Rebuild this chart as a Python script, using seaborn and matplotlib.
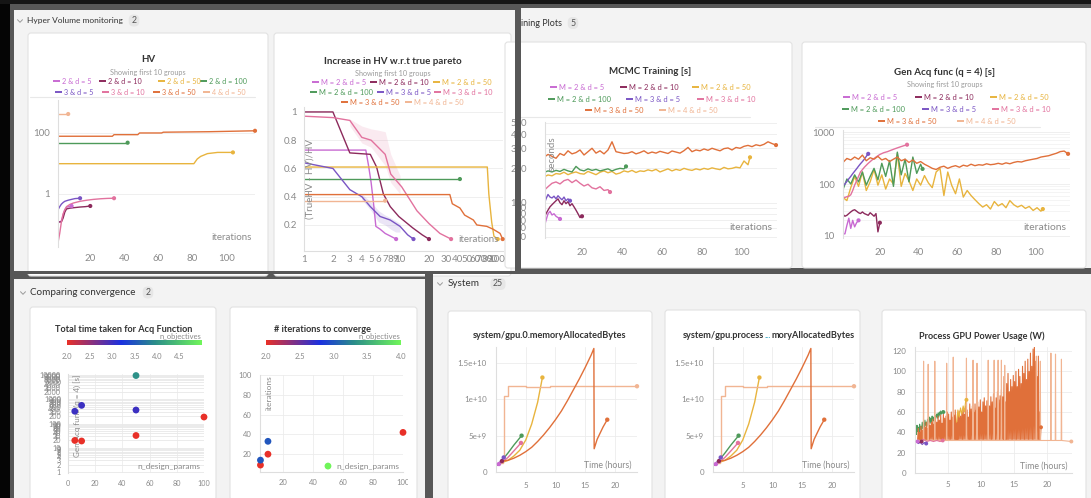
import numpy as np
import pandas as pd
import matplotlib
matplotlib.use("Agg")
import matplotlib.pyplot as plt
import seaborn as sns
from matplotlib.patches import Rectangle, FancyBboxPatch
from matplotlib.colors import LinearSegmentedColormap, Normalize
from matplotlib.cm import ScalarMappable
from matplotlib.ticker import FixedLocator, FixedFormatter, NullLocator
from matplotlib.transforms import Bbox

sns.set_theme(style="white")
plt.rcParams['font.family'] = ['Lato', 'DejaVu Sans']

# ------------------------------------------------------------------ data
groups = ["M = 2 & d = 5", "M = 2 & d = 10", "M = 2 & d = 50", "M = 2 & d = 100",
          "M = 3 & d = 5", "M = 3 & d = 10", "M = 3 & d = 50", "M = 4 & d = 50"]
hv_labels = ["2 & d = 5", "2 & d = 10", "2 & d = 50", "2 & d = 100",
             "3 & d = 5", "3 & d = 10", "3 & d = 50", "4 & d = 50"]
colors = ["#c86ad2", "#8c2a5c", "#e8b43e", "#4e9a5a", "#7a55c4", "#e2729e", "#e0703a", "#f1b593"]

# HV (log y)
hv_25_x = [1, 2, 3, 4, 5, 6, 7, 8, 9]
hv_25_y = [0.12, 0.12, 0.13, 0.2, 0.3, 0.36, 0.38, 0.39, 0.4]
hv_210_x = [1, 3, 4, 5, 6, 8, 10, 14, 17, 20]
hv_210_y = [0.12, 0.12, 0.16, 0.25, 0.32, 0.34, 0.35, 0.37, 0.38, 0.4]
hv_250_x = [1, 81, 83, 85, 89, 95, 104]
hv_250_y = [9.8, 9.8, 14, 17, 21, 23, 23]
hv_2100_x = [1, 42]
hv_2100_y = [48, 48]
hv_35_x = [1, 2, 3, 4, 5, 7, 9, 11, 14]
hv_35_y = [0.3, 0.38, 0.46, 0.52, 0.57, 0.62, 0.66, 0.7, 0.72]
hv_310_x = [1, 2, 3, 4, 5, 6, 8, 10, 14, 18, 22, 26, 30, 34]
hv_310_y = [0.025, 0.05, 0.12, 0.22, 0.3, 0.38, 0.45, 0.5, 0.57, 0.62, 0.66, 0.69, 0.71, 0.72]
hv_350_x = [1, 33, 34, 48, 49, 62, 63, 90, 117]
hv_350_y = [78, 78, 88, 88, 100, 100, 106, 110, 118]
hv_450_x = [1, 7]
hv_450_y = [420, 420]

# Increase in HV w.r.t true pareto (log x)
ih_25_x = [1, 4.4, 4.7, 5, 5.3, 5.6, 6.2, 7, 8, 9.1]
ih_25_y = [0.73, 0.73, 0.62, 0.5, 0.35, 0.19, 0.17, 0.14, 0.12, 0.1]
ih_210_x = [1, 2, 3, 4.9, 5.7, 6.7, 7.9, 9.7, 13.5, 17, 20]
ih_210_y = [1.0, 1.0, 0.71, 0.7, 0.61, 0.42, 0.33, 0.26, 0.18, 0.13, 0.1]
ih_250_x = [1, 81, 84, 86, 90, 95, 104]
ih_250_y = [0.61, 0.61, 0.42, 0.35, 0.22, 0.12, 0.1]
ih_2100_x = [1, 42]
ih_2100_y = [0.525, 0.525]
ih_35_x = [1, 2, 3, 4, 4.9, 6.2, 7.9, 10, 12, 13.8]
ih_35_y = [0.64, 0.6, 0.45, 0.4, 0.33, 0.26, 0.235, 0.19, 0.13, 0.1]
ih_310_x = [1, 2, 3, 4, 5, 7, 8, 10.4, 15, 20, 26, 34]
ih_310_y = [0.97, 0.96, 0.94, 0.82, 0.8, 0.7, 0.56, 0.47, 0.3, 0.21, 0.14, 0.1]
ih_350_x = [1, 33, 35, 42, 47, 58, 63, 80, 93, 110, 117]
ih_350_y = [0.415, 0.415, 0.35, 0.32, 0.27, 0.235, 0.2, 0.19, 0.17, 0.14, 0.1]
ih_450_x = [1, 7]
ih_450_y = [0.372, 0.372]
ih_310_band_x = [3, 4, 5, 6, 7, 8, 10]
ih_310_band_lo = [0.9, 0.78, 0.75, 0.68, 0.62, 0.5, 0.42]
ih_310_band_hi = [0.95, 0.9, 0.88, 0.87, 0.86, 0.7, 0.55]
ih_35_band_x = [4, 5, 6, 7, 8, 9, 10]
ih_35_band_lo = [0.38, 0.3, 0.22, 0.2, 0.17, 0.15, 0.15]
ih_35_band_hi = [0.42, 0.36, 0.3, 0.27, 0.25, 0.23, 0.21]

# MCMC Training [s]
mc_25_x = list(range(1, 10))
mc_25_y = [60, 70, 80, 84, 78, 80, 76, 74, 72]
mc_210_x = list(range(1, 21))
mc_210_y = [74, 80, 86, 92, 96, 100, 104, 108, 100, 96, 104, 98, 102, 94, 98, 92, 86, 80, 74, 76]
mc_250_x = list(range(1, 104, 2)) + [104]
mc_250_y = [168, 175, 172, 180, 178, 185, 176, 182, 186, 180, 178, 188, 182, 176, 185, 190, 183, 188, 178, 182,
            190, 186, 192, 184, 190, 188, 194, 190, 196, 186, 192, 198, 190, 196, 192, 200, 195, 192, 198, 194,
            200, 196, 202, 198, 195, 204, 198, 200, 205, 202, 232, 215, 250]
mc_2100_x = list(range(1, 42, 2)) + [42]
mc_2100_y = [184, 190, 186, 192, 188, 196, 190, 186, 208, 194, 190, 198, 192, 196, 190, 194, 198, 190, 196, 200,
             198, 208]
mc_35_x = list(range(1, 15))
mc_35_y = [96, 108, 118, 112, 110, 114, 108, 115, 110, 106, 112, 104, 108, 104]
mc_310_x = list(range(1, 34, 2)) + [34]
mc_310_y = [128, 138, 148, 152, 146, 156, 160, 150, 158, 148, 140, 145, 135, 132, 138, 128, 130, 124]
mc_350_x = list(range(1, 118, 2))
mc_350_y = [250, 265, 255, 245, 270, 260, 285, 268, 275, 290, 262, 280, 300, 272, 285, 268, 290, 342, 280, 275,
            270, 272, 280, 268, 275, 285, 270, 278, 272, 282, 276, 270, 284, 278, 272, 286, 305, 280, 290, 285,
            296, 288, 300, 292, 285, 298, 302, 290, 305, 300, 312, 318, 310, 322, 316, 325, 342, 330, 320]

# Gen Acq func (q = 4) [s]
ga_25_x = list(range(1, 10))
ga_25_y = [11, 11, 16, 22, 14, 20, 15, 18, 20]
ga_210_x = list(range(1, 21))
ga_210_y = [26, 24, 25, 27, 29, 31, 32, 30, 28, 27, 29, 27, 26, 25, 28, 26, 24, 27, 12, 18]
ga_250_x = list(range(1, 104, 2)) + [104]
ga_250_y = [55, 48, 85, 140, 90, 170, 75, 110, 190, 95, 150, 80, 125, 100, 380, 90, 160, 115, 75, 125,
            95, 145, 105, 85, 170, 200, 60, 170, 95, 65, 125, 56, 75, 60, 50,
            42, 36, 40, 33, 46, 38, 42, 35, 48, 40, 36, 39, 34, 37, 31, 35, 30, 33]
ga_2100_x = list(range(1, 42, 2)) + [42]
ga_2100_y = [78, 125, 100, 150, 110, 170, 95, 140, 200, 120, 250, 140, 280, 90, 410, 150, 300, 110, 330, 160,
             240, 195]
ga_35_x = list(range(1, 15))
ga_35_y = [92, 100, 112, 126, 140, 158, 176, 196, 220, 245, 270, 300, 340, 380]
ga_310_x = [1, 2, 3, 4, 5, 6, 7, 8, 9, 10, 12, 14, 16, 18, 20, 22, 24, 26, 28, 30, 32, 34]
ga_310_y = [56, 55, 57, 58, 62, 75, 95, 115, 140, 170, 210, 250, 290, 330, 370, 400, 420, 450, 480, 510, 540, 570]
ga_350_x = list(range(1, 118, 2))
ga_350_y = [260, 310, 290, 330, 300, 360, 280, 320, 300, 340, 290, 310, 270, 300, 330, 280, 300, 260, 290, 250,
            270, 240, 220, 200, 190, 210, 220, 200, 215, 225, 210, 230, 220, 240, 225, 235, 230, 245, 235, 240,
            250, 240, 255, 245, 260, 270, 265, 280, 290, 300, 310, 330, 340, 350, 370, 390, 420, 430, 380]

# Comparing convergence
conv_d = [5, 10, 50, 100, 5, 10, 50, 50]
conv_M = [2, 2, 2, 2, 3, 3, 3, 4]
conv_acq_time = [20, 19, 32, 185, 320, 560, 360, 9500]
it_d = [5, 10, 100, 5, 10, 50]
it_M = [2, 2, 2, 3, 3, 4]
it_iters = [9, 20, 42, 14, 33, 8]

# System: memory (bytes, in units of 1e9)
mem_25_t = [0.2, 0.5]
mem_25_v = [0.9, 1.1]
mem_210_t = [0.3, 0.6, 1.0]
mem_210_v = [1.0, 1.2, 1.5]
mem_250_t = [0.5, 1, 2, 3, 4, 5, 6, 7, 7.8]
mem_250_v = [1.2, 1.3, 1.6, 2.2, 3.0, 4.4, 6.6, 9.6, 13.0]
mem_2100_t = [0.4, 1, 2, 3, 4.3]
mem_2100_v = [1.1, 1.6, 2.6, 3.7, 5.0]
mem_35_t = [0.4, 0.8, 1.3]
mem_35_v = [1.0, 1.5, 2.0]
mem_310_t = [0.5, 1, 2, 3, 4.2]
mem_310_v = [1.0, 1.3, 2.0, 2.9, 4.0]
mem_350_t = [0.8, 2, 3, 4, 5, 6, 7, 8, 9, 10, 11, 12, 13, 14, 15, 16, 16.45, 16.5, 17, 18, 18.7]
mem_350_v = [1.5, 1.6, 1.9, 2.3, 2.8, 3.4, 4.2, 5.1, 6.1, 7.2, 8.4, 9.8, 11.3, 12.8, 14.4, 16.1, 17.0,
             3.2, 4.5, 6.2, 7.2]
mem_450_t = [0.3, 1.2, 1.2, 1.3, 1.3, 2.0, 2.0, 5.0, 5.0, 9.0, 9.0, 23.7]
mem_450_v = [1.2, 1.2, 2.2, 2.2, 10.5, 10.5, 11.8, 11.8, 11.7, 11.7, 11.8, 11.8]

# System: power (W)
pw_25_t = [0.2, 0.4]
pw_25_w = [31, 31]
pw_210_t = [0.2, 0.6, 1.0]
pw_210_w = [31, 30, 31]
pw_250_t = [6.3, 6.5, 6.7, 6.9, 7.1, 7.3, 7.5, 7.7, 7.8]
pw_250_w = [50, 62, 55, 64, 58, 66, 60, 72, 72]
pw_2100_t = list(np.round(np.arange(1, 44) * 0.1, 1))
pw_2100_w = [44, 38, 47, 41, 45, 40, 48, 43, 46, 42, 50, 44, 48, 45, 52, 47, 50, 46, 53, 48,
             51, 55, 49, 54, 50, 56, 52, 55, 51, 57, 53, 56, 58, 54, 59, 55, 60, 57, 61, 58, 60, 61, 60]
pw_35_t = [0.2, 0.5, 0.8, 1.1, 1.4, 1.7]
pw_35_w = [31, 29, 30, 28, 30, 29]
pw_310_t = [0.3, 0.8, 1.3, 1.8, 2.3, 2.8, 3.3, 3.8, 4.2]
pw_310_w = [32, 31, 33, 31, 32, 31, 32, 31, 32]
pw_350_start = 0.5
pw_350_step = 0.2
pw_350_low = 33
pw_350_peaks = [44, 40, 46, 42, 48, 45, 50, 44, 52, 47, 50,
                53, 48, 55, 50, 56, 52, 57, 49, 58, 54, 56, 60,
                58, 52, 60, 55, 57, 62, 50, 58, 61, 56,
                60, 64, 58, 66, 62, 55, 68, 63, 66, 60,
                68, 62, 70, 65, 72, 60, 70, 74, 66, 71,
                72, 66, 75, 70, 78, 64, 74, 80, 72, 76,
                82, 75, 95, 70, 88, 98, 80, 92, 85, 96,
                90, 100, 85, 102, 95, 88, 105, 98, 110, 92,
                112, 100, 118, 105, 122, 125, 110, 95, 115, 60, 45]
pw_450_base = 32
pw_450_spike_t = [1.3, 2.0, 3.0, 4.8, 5.8, 7.8, 8.8, 9.4, 11.1, 12.0, 12.6, 13.1, 13.6, 18.4, 19.0,
                  20.6, 21.3, 22.2]
pw_450_spike_w = [110, 107, 110, 108, 114, 113, 111, 108, 111, 111, 111, 111, 106, 115, 110, 118, 117, 112]
pw_450_end = 23.7

# ------------------------------------------------------------------ helpers
W, H = 1091, 498
fig = plt.figure(figsize=(W / 100, H / 100), dpi=100)
fig.patch.set_facecolor('#575757')
pal = dict(zip(groups, colors))


def R(x0, y0, x1, y1):
    return [x0 / W, 1 - y1 / H, (x1 - x0) / W, (y1 - y0) / H]


def T(x, y, s, **kw):
    return fig.text(x / W, 1 - y / H, s, **kw)


def clip_x(artist, x0=0, x1=W):
    artist.set_clip_box(Bbox.from_extents(x0, 0, x1, H))
    artist.set_clip_on(True)


bg = fig.add_axes([0, 0, 1, 1], zorder=-10)
bg.set_xlim(0, W)
bg.set_ylim(H, 0)
bg.axis('off')

bg.add_patch(Rectangle((0, 0), 10, H, fc='#050505', ec='none'))
bg.add_patch(Rectangle((0, 0), W, 4, fc='#151515', ec='none'))
SEC = '#f3f3f3'
for (x0, y0, x1, y1) in [(14, 10, 515, 271), (521, 8, W, 268), (14, 279, 425, H), (433, 274, W, H)]:
    bg.add_patch(Rectangle((x0, y0), x1 - x0, y1 - y0, fc=SEC, ec='none'))

cards = [(28, 33, 268, 276), (274, 33, 511, 276), (505, 42, 792, 268), (802, 42, 1086, 268),
         (30, 307, 216, 500), (230, 307, 417, 500), (448, 311, 652, 502), (665, 310, 860, 502),
         (882, 310, 1086, 502)]
for (x0, y0, x1, y1) in cards:
    bg.add_patch(FancyBboxPatch((x0, y0), x1 - x0, y1 - y0, boxstyle='round,pad=0,rounding_size=3',
                                fc='white', ec='#e2e2e2', lw=0.8))


def chevron(x, y):
    bg.plot([x - 2.5, x, x + 2.5], [y - 1.3, y + 1.3, y - 1.3], color='#9a9a9a', lw=0.7)


def badge(cx, y, s):
    w = 6 + 4.5 * len(s)
    bg.add_patch(FancyBboxPatch((cx - w / 2, y - 6), w, 12, boxstyle='round,pad=0,rounding_size=5',
                                fc='#e6e6e6', ec='none'))
    T(cx, y, s, fontsize=6.3, color='#555555', ha='center', va='center')


chevron(20, 21)
T(27, 20.5, "Hyper Volume monitoring", fontsize=6.0, color='#333333', va='center')
badge(134, 20.5, "2")
t = T(562, 23, "Training Plots", fontsize=6.5, color='#333333', va='center', ha='right')
clip_x(t, 521, W)
badge(573, 23, "5")
chevron(23, 293)
T(30, 292.5, "Comparing convergence", fontsize=7.1, color='#333333', va='center')
badge(148, 292.5, "2")
chevron(440, 284)
T(448, 284, "System", fontsize=7.1, color='#333333', va='center')
badge(498, 284, "25")


def title(cx, y, s, size=7.0):
    T(cx, y, s, fontsize=size, fontweight='bold', color='#333333', ha='center', va='center')


def subtitle(cx, y):
    T(cx, y, "Showing first 10 groups", fontsize=5.2, color='#9a9a9a', ha='center', va='center')


def legend(rows, labels, size=5.4):
    for y, entries in rows:
        for x, gi in entries:
            bg.plot([x, x + 6.5], [y, y], color=colors[gi], lw=1.4, solid_capstyle='butt')
            bg.text(x + 9, y, labels[gi], color=colors[gi], fontsize=size, va='center', ha='left')


def style(ax, grid_y=True, grid_x=False, size=6.5, xpad=5, ypad=6):
    ax.patch.set_alpha(0)
    for s in ['top', 'right']:
        ax.spines[s].set_visible(False)
    for s in ['left', 'bottom']:
        ax.spines[s].set_color('#dedede')
        ax.spines[s].set_linewidth(0.8)
    ax.tick_params(axis='both', which='both', labelsize=size, labelcolor='#8a8a8a', length=0)
    ax.tick_params(axis='x', pad=xpad)
    ax.tick_params(axis='y', pad=ypad)
    ax.set_xlabel('')
    ax.set_ylabel('')
    ax.grid(False)
    if grid_y:
        ax.yaxis.grid(True, which='major', color='#ececec', lw=0.6)
    if grid_x:
        ax.xaxis.grid(True, which='major', color='#ececec', lw=0.6)
    ax.set_axisbelow(True)


def draw_lines(ax, series, lw=1.0, dot=9):
    frames = [pd.DataFrame({'x': np.asarray(xs, float), 'y': np.asarray(ys, float), 'group': groups[gi]})
              for gi, xs, ys in series]
    df = pd.concat(frames, ignore_index=True)
    sns.lineplot(data=df, x='x', y='y', hue='group', palette=pal, estimator=None, sort=False,
                 legend=False, ax=ax, linewidth=lw)
    if dot:
        last = df.groupby('group', sort=False).tail(1)
        sns.scatterplot(data=last, x='x', y='y', hue='group', palette=pal, legend=False, ax=ax,
                        s=dot, edgecolor='none', zorder=5, clip_on=False)


# ------------------------------------------------------------------ HV
title(148, 60, "HV")
subtitle(148, 72)
legend([(81, [(53, 0), (99, 1), (158, 2), (200, 3)]),
        (92, [(55, 4), (102, 5), (153, 6), (203, 7)])], hv_labels, size=5.2)
bg.plot([30, 255], [97, 97], color='#e8e8e8', lw=0.8)
ax = fig.add_axes(R(58, 100, 255, 247))
draw_lines(ax, [(0, hv_25_x, hv_25_y), (1, hv_210_x, hv_210_y), (2, hv_250_x, hv_250_y),
                (3, hv_2100_x, hv_2100_y), (4, hv_35_x, hv_35_y), (5, hv_310_x, hv_310_y),
                (6, hv_350_x, hv_350_y), (7, hv_450_x, hv_450_y)])
ax.set_yscale('log')
ax.set_ylim(0.018, 1210)
ax.set_xlim(1, 117)
style(ax, size=7, ypad=6, xpad=5)
ax.yaxis.set_major_locator(FixedLocator([1, 100]))
ax.yaxis.set_major_formatter(FixedFormatter(['1', '100']))
ax.yaxis.set_minor_locator(NullLocator())
ax.set_xticks([20, 40, 60, 80, 100])
ax.spines['bottom'].set_visible(False)
T(252, 238, "iterations", fontsize=7, color='#8a8a8a', ha='right', va='center')

# ------------------------------------------------------------------ Increase in HV
title(393, 61, "Increase in HV w.r.t true pareto")
subtitle(393, 73)
legend([(82, [(312, 0), (370, 1), (433, 2)]),
        (92, [(310, 3), (377, 4), (434, 5)]),
        (102, [(341, 6), (405, 7)])], groups)
ax = fig.add_axes(R(304, 107, 503, 251))
ax.fill_between(ih_310_band_x, ih_310_band_lo, ih_310_band_hi, color=colors[5], alpha=0.15, lw=0)
ax.fill_between(ih_35_band_x, ih_35_band_lo, ih_35_band_hi, color=colors[4], alpha=0.15, lw=0)
draw_lines(ax, [(0, ih_25_x, ih_25_y), (1, ih_210_x, ih_210_y), (2, ih_250_x, ih_250_y),
                (3, ih_2100_x, ih_2100_y), (4, ih_35_x, ih_35_y), (5, ih_310_x, ih_310_y),
                (6, ih_350_x, ih_350_y), (7, ih_450_x, ih_450_y)])
ax.set_xscale('log')
ax.set_xlim(1, 118)
ax.set_ylim(0.0156, 1.035)
style(ax, size=7, ypad=5, xpad=3)
ih_ticks = [1, 2, 3, 4, 5, 6, 7, 8, 9, 10, 20, 30, 40, 50, 60, 70, 80, 90, 100]
ax.xaxis.set_major_locator(FixedLocator(ih_ticks))
ax.xaxis.set_major_formatter(FixedFormatter([str(v) for v in ih_ticks]))
ax.xaxis.set_minor_locator(NullLocator())
ax.tick_params(axis='x', length=4, direction='in', color='#dcdcdc', width=0.7)
ax.set_yticks([0.2, 0.4, 0.6, 0.8, 1.0])
ax.set_yticklabels(['0.2', '0.4', '0.6', '0.8', '1'])
ax.text(0.03, 0.5, "(TrueHV - HV)/HV", transform=ax.transAxes, rotation=90, fontsize=7,
        color='#8a8a8a', ha='center', va='center')
T(499, 239, "iterations", fontsize=7, color='#8a8a8a', ha='right', va='center')

# ------------------------------------------------------------------ MCMC
title(650, 71, "MCMC Training [s]")
legend([(87, [(550, 0), (620, 1), (692, 2)]),
        (99, [(548, 3), (626, 4), (697, 5)]),
        (110, [(585, 6), (659, 7)])], groups)
bg.plot([520, 750], [117, 117], color='#e8e8e8', lw=0.8)
ax = fig.add_axes(R(545, 122, 777, 238))
draw_lines(ax, [(0, mc_25_x, mc_25_y), (1, mc_210_x, mc_210_y), (2, mc_250_x, mc_250_y),
                (3, mc_2100_x, mc_2100_y), (4, mc_35_x, mc_35_y), (5, mc_310_x, mc_310_y),
                (6, mc_350_x, mc_350_y)])
ax.set_yscale('log')
ax.set_ylim(49, 510)
ax.set_xlim(1.5, 117.5)
style(ax, size=6.8, ypad=13, xpad=7)
mc_ticks = [50, 60, 70, 80, 90, 100, 200, 300, 400, 500]
ax.yaxis.set_major_locator(FixedLocator(mc_ticks))
ax.yaxis.set_major_formatter(FixedFormatter([str(v) for v in mc_ticks]))
ax.yaxis.set_minor_locator(NullLocator())
ax.set_xticks([20, 40, 60, 80, 100])
ax.spines['bottom'].set_visible(False)
ax.text(0.03, 0.73, "seconds", transform=ax.transAxes, rotation=90, fontsize=7,
        color='#8a8a8a', ha='center', va='center')
T(772, 228, "iterations", fontsize=7.5, color='#8a8a8a', ha='right', va='center')

# ------------------------------------------------------------------ Gen Acq
title(945, 72, "Gen Acq func (q = 4) [s]")
subtitle(945, 85)
legend([(97, [(843, 0), (915, 1), (990, 2)]),
        (109, [(842, 3), (922, 4), (992, 5)]),
        (121, [(878, 6), (957, 7)])], groups)
bg.plot([815, 1040], [127, 127], color='#e8e8e8', lw=0.8)
ax = fig.add_axes(R(843, 130, 1070, 238))
draw_lines(ax, [(0, ga_25_x, ga_25_y), (1, ga_210_x, ga_210_y), (2, ga_250_x, ga_250_y),
                (3, ga_2100_x, ga_2100_y), (4, ga_35_x, ga_35_y), (5, ga_310_x, ga_310_y),
                (6, ga_350_x, ga_350_y)])
ax.set_yscale('log')
ax.set_ylim(9.15, 1093)
ax.set_xlim(1, 118)
style(ax, size=7, ypad=6, xpad=7)
ax.yaxis.set_major_locator(FixedLocator([10, 100, 1000]))
ax.yaxis.set_major_formatter(FixedFormatter(['10', '100', '1000']))
ax.yaxis.set_minor_locator(FixedLocator([v * m for m in (10, 100) for v in range(2, 10)]))
ax.yaxis.grid(True, which='minor', color='#f0f0f0', lw=0.5)
ax.set_xticks([20, 40, 60, 80, 100])
ax.spines['bottom'].set_visible(False)
T(1066, 228, "iterations", fontsize=7.5, color='#8a8a8a', ha='right', va='center')

# ------------------------------------------------------------------ convergence scatters
cmap = LinearSegmentedColormap.from_list('rbg', [(0, '#e83028'), (0.4, '#1a30e0'), (0.65, '#2a8c8a'),
                                                (1, '#70f55a')])


def colorbar(x0, x1, vmin, vmax, ticks):
    cax = fig.add_axes(R(x0, 340, x1, 345))
    cb = fig.colorbar(ScalarMappable(norm=Normalize(vmin, vmax), cmap=cmap), cax=cax, orientation='horizontal')
    cb.outline.set_visible(False)
    cb.set_ticks(ticks)
    cb.set_ticklabels(['%.1f' % v for v in ticks])
    cax.tick_params(length=0, labelsize=5.5, labelcolor='#8a8a8a', pad=6)
    T(x1 - 1, 337, "n_objectives", fontsize=5.5, color='#8a8a8a', ha='right', va='center')


title(124, 329, "Total time taken for Acq Function", size=6.6)
colorbar(67, 202, 2, 5, [2.0, 2.5, 3.0, 3.5, 4.0, 4.5])
ax = fig.add_axes(R(68, 374, 204, 473))
df1 = pd.DataFrame({'d': conv_d, 'M': conv_M, 't': conv_acq_time})
sns.scatterplot(data=df1, x='d', y='t', hue='M', palette=cmap, hue_norm=(2, 5), s=24, edgecolor='none',
                legend=False, ax=ax, clip_on=False, zorder=4)
ax.set_yscale('log')
ax.set_ylim(0.91, 11000)
ax.set_xlim(0, 100)
style(ax, grid_x=True, size=5.2, ypad=5, xpad=5)
s1_ticks = [v * m for m in (1, 10, 100, 1000) for v in range(1, 10)] + [10000]
ax.yaxis.set_major_locator(FixedLocator(s1_ticks))
ax.yaxis.set_major_formatter(FixedFormatter([str(v) for v in s1_ticks]))
ax.yaxis.set_minor_locator(NullLocator())
ax.yaxis.grid(True, which='major', color='#e8e8e8', lw=0.6)
ax.set_xticks([0, 20, 40, 60, 80, 100])
ax.spines['bottom'].set_visible(False)
for tk in ax.xaxis.get_major_ticks():
    clip_x(tk.label1, 0, 212)
ax.text(0.07, 0.58, "Gen Acq func (q = 4) [s]", transform=ax.transAxes, rotation=90, fontsize=5.8,
        color='#8a8a8a', ha='center', va='center')
T(200, 466, "n_design_params", fontsize=6, color='#8a8a8a', ha='right', va='center')

title(323, 329, "# iterations to converge", size=6.6)
colorbar(266, 401, 2, 4, [2.0, 2.5, 3.0, 3.5, 4.0])
ax = fig.add_axes(R(260, 375, 403, 472))
df2 = pd.DataFrame({'d': it_d, 'M': it_M, 'it': it_iters})
sns.scatterplot(data=df2, x='d', y='it', hue='M', palette=cmap, hue_norm=(2, 4), s=24, edgecolor='none',
                legend=False, ax=ax, clip_on=False, zorder=4)
ax.set_ylim(2, 100)
ax.set_xlim(4.7, 100)
style(ax, grid_x=True, size=5.5, ypad=6, xpad=5)
ax.set_yticks([20, 40, 60, 80, 100])
ax.set_xticks([20, 40, 60, 80, 100])
for tk in ax.xaxis.get_major_ticks():
    clip_x(tk.label1, 0, 408)
ax.text(0.06, 0.82, "iterations", transform=ax.transAxes, rotation=90, fontsize=6,
        color='#8a8a8a', ha='center', va='center')
T(399, 466, "n_design_params", fontsize=6, color='#8a8a8a', ha='right', va='center')

# ------------------------------------------------------------------ system
mem_series = [(0, mem_25_t, [v * 1e9 for v in mem_25_v]), (1, mem_210_t, [v * 1e9 for v in mem_210_v]),
              (2, mem_250_t, [v * 1e9 for v in mem_250_v]), (3, mem_2100_t, [v * 1e9 for v in mem_2100_v]),
              (4, mem_35_t, [v * 1e9 for v in mem_35_v]), (5, mem_310_t, [v * 1e9 for v in mem_310_v]),
              (7, mem_450_t, [v * 1e9 for v in mem_450_v]), (6, mem_350_t, [v * 1e9 for v in mem_350_v])]


def mem_chart(x0, x1):
    ax = fig.add_axes(R(x0, 347, x1, 472))
    draw_lines(ax, mem_series, lw=1.0, dot=10)
    ax.set_ylim(0, 1.72e10)
    ax.set_xlim(0, 23.7)
    style(ax, grid_x=True, size=5.8, ypad=6.5, xpad=7)
    ax.set_yticks([0, 5e9, 1e10, 1.5e10])
    ax.set_yticklabels(['0', '5e+9', '1e+10', '1.5e+10'])
    ax.set_xticks([5, 10, 15, 20])
    T(x1 - 5, 465, "Time (hours)", fontsize=6.3, color='#8a8a8a', ha='right', va='center')


title(550, 336, "system/gpu.0.memoryAllocatedBytes", size=6.6)
mem_chart(496, 637)
T(764, 336, "system/gpu.process", fontsize=6.6, fontweight='bold', color='#333333', ha='right', va='center')
T(767.5, 336, "...", fontsize=6.6, fontweight='bold', color='#3aa6c4', ha='center', va='center')
T(771, 336, "moryAllocatedBytes", fontsize=6.6, fontweight='bold', color='#333333', ha='left', va='center')
mem_chart(713, 854)

# power
pw_350_t, pw_350_w = [], []
for i, p in enumerate(pw_350_peaks):
    tt = pw_350_start + pw_350_step * i
    pw_350_t += [tt - pw_350_step / 2, tt]
    pw_350_w += [pw_350_low, p]
pw_450_t, pw_450_w = [0.3], [pw_450_base]
for ts, h in zip(pw_450_spike_t, pw_450_spike_w):
    pw_450_t += [ts - 0.04, ts, ts + 0.04]
    pw_450_w += [pw_450_base, h, pw_450_base]
pw_450_t.append(pw_450_end)
pw_450_w.append(pw_450_base - 1)

title(982, 336, "Process GPU Power Usage (W)", size=6.6)
ax = fig.add_axes(R(915, 347, 1072, 473))
draw_lines(ax, [(3, pw_2100_t, pw_2100_w), (6, pw_350_t, pw_350_w), (7, pw_450_t, pw_450_w),
                (2, pw_250_t, pw_250_w), (4, pw_35_t, pw_35_w), (5, pw_310_t, pw_310_w),
                (1, pw_210_t, pw_210_w), (0, pw_25_t, pw_25_w)], lw=0.8, dot=8)
ax.set_ylim(0, 124)
ax.set_xlim(0, 23.8)
style(ax, grid_x=True, size=5.8, ypad=6.5, xpad=6)
ax.set_yticks([0, 20, 40, 60, 80, 100, 120])
ax.set_xticks([5, 10, 15, 20])
T(1067, 466, "Time (hours)", fontsize=6.3, color='#8a8a8a', ha='right', va='center')

# ------------------------------------------------------------------ overlay dividers
ov = fig.add_axes([0, 0, 1, 1], zorder=50)
ov.set_xlim(0, W)
ov.set_ylim(H, 0)
ov.axis('off')
ov.add_patch(Rectangle((515, 4), 6, 268, fc='#575757', ec='none'))
ov.add_patch(Rectangle((10, 271), 1081, 3, fc='#575757', ec='none'))
ov.add_patch(Rectangle((425, 271), 8, H - 271, fc='#575757', ec='none'))

fig.savefig("out.png", dpi=100)
